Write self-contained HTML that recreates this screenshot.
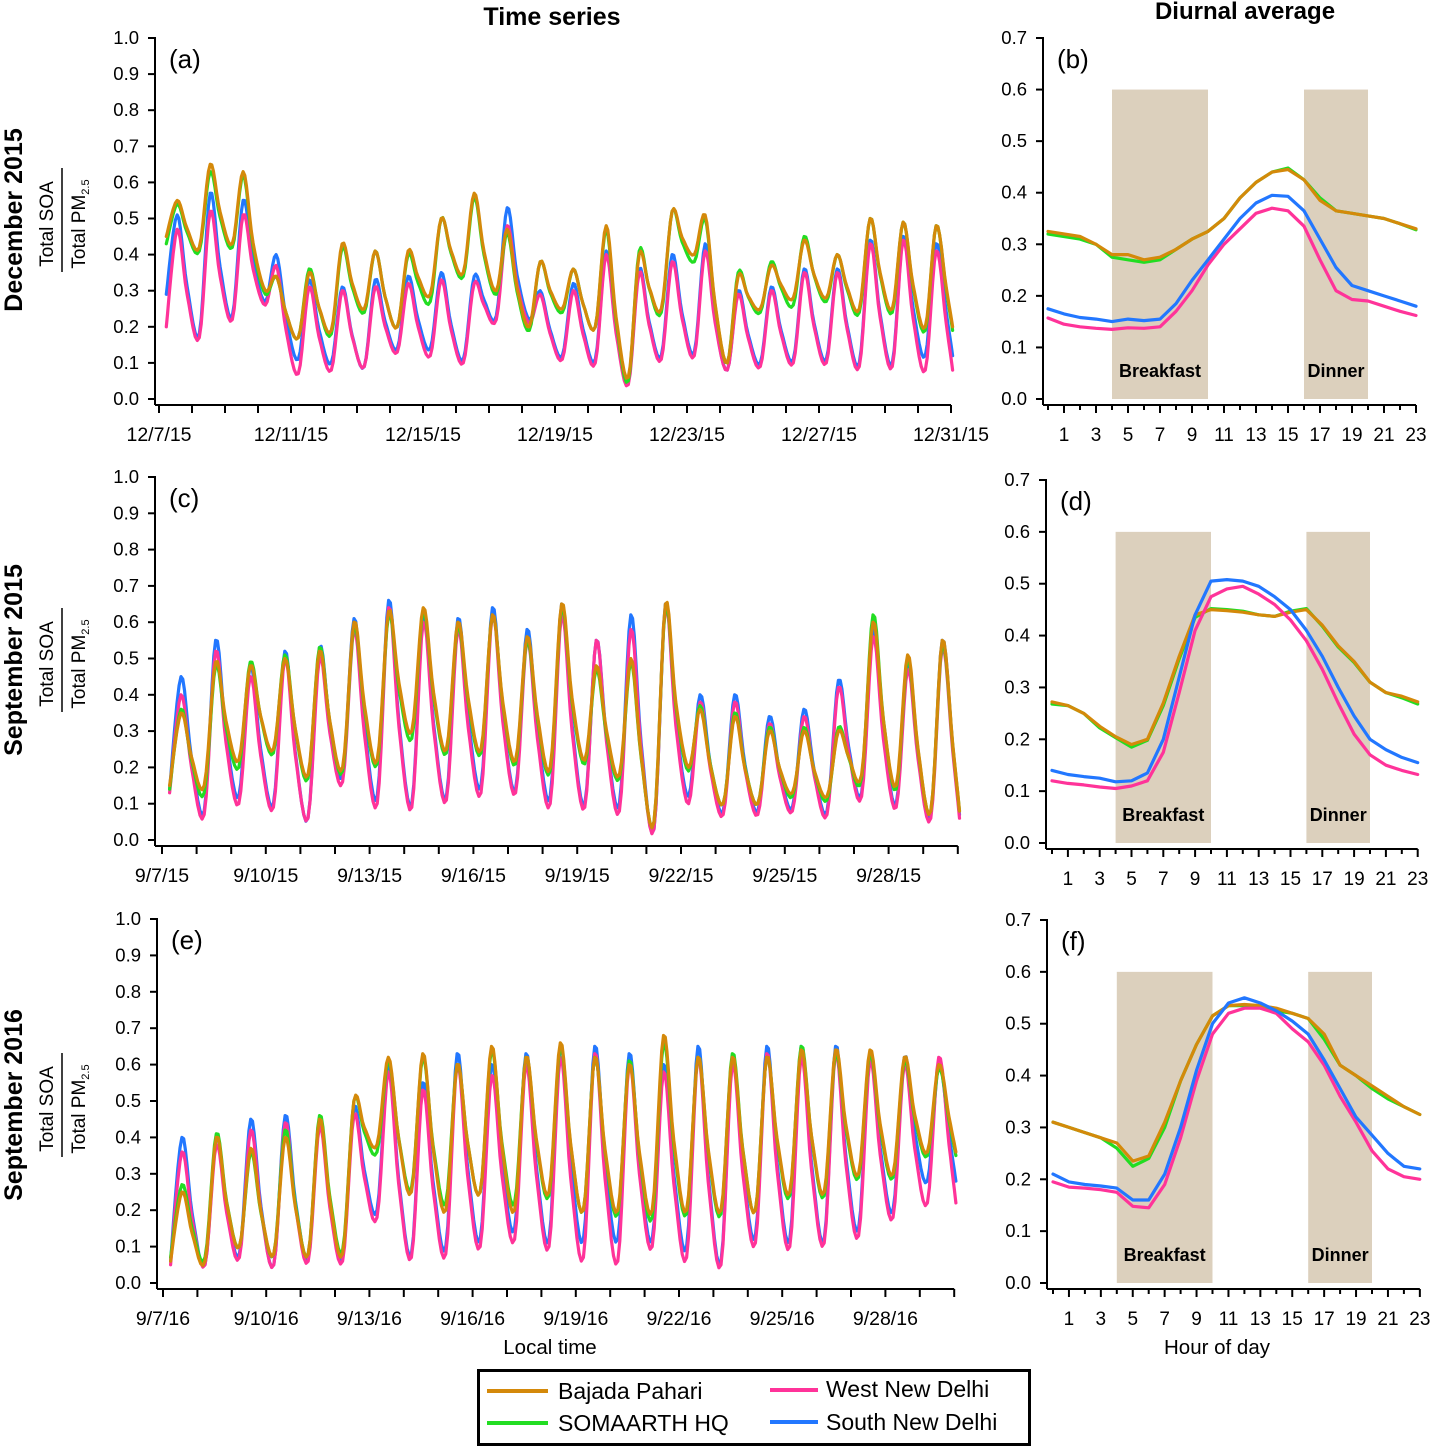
<!DOCTYPE html>
<html><head><meta charset="utf-8"><style>
body{margin:0;background:#fff;font-family:"Liberation Sans",sans-serif}
svg{display:block}
</style></head><body>
<svg id="fig" width="1432" height="1448" viewBox="0 0 1432 1448" xmlns="http://www.w3.org/2000/svg" font-family="Liberation Sans, sans-serif">
<text x="552" y="25" font-size="25" font-weight="bold" text-anchor="middle">Time series</text>
<text x="1245" y="19" font-size="24" font-weight="bold" text-anchor="middle">Diurnal average</text>
<text x="550" y="1354" font-size="20.5" text-anchor="middle">Local time</text>
<text x="1217" y="1354" font-size="20.5" text-anchor="middle">Hour of day</text>
<g>
<rect x="478.5" y="1370.5" width="551" height="74" fill="#fff" stroke="#000" stroke-width="3"/>
<line x1="487" y1="1391" x2="548" y2="1391" stroke="#d4890a" stroke-width="4"/>
<text x="558" y="1399" font-size="23">Bajada Pahari</text>
<line x1="487" y1="1423" x2="548" y2="1423" stroke="#22dd22" stroke-width="4"/>
<text x="558" y="1431" font-size="23">SOMAARTH HQ</text>
<line x1="770" y1="1390" x2="818" y2="1390" stroke="#ff3399" stroke-width="4"/>
<text x="826" y="1397" font-size="23">West New Delhi</text>
<line x1="770" y1="1422" x2="818" y2="1422" stroke="#2277ff" stroke-width="4"/>
<text x="826" y="1430" font-size="23">South New Delhi</text>
</g>
</svg>
<script>
// ---- Time series data (daily trough / peak per site) ----
const decBajadaPeak=[0.55,0.65,0.63,0.34,0.35,0.43,0.41,0.41,0.50,0.57,0.47,0.38,0.36,0.48,0.40,0.52,0.51,0.34,0.37,0.44,0.40,0.50,0.49,0.48];
const decBajadaTrough=[0.45,0.42,0.43,0.30,0.17,0.19,0.25,0.20,0.29,0.35,0.30,0.20,0.25,0.20,0.06,0.25,0.40,0.10,0.25,0.28,0.28,0.25,0.25,0.20];
const decSomaarthPeak=[0.54,0.63,0.62,0.34,0.36,0.42,0.41,0.40,0.50,0.56,0.46,0.38,0.36,0.47,0.41,0.52,0.50,0.35,0.38,0.45,0.40,0.50,0.49,0.48];
const decSomaarthTrough=[0.43,0.41,0.42,0.29,0.17,0.18,0.24,0.20,0.27,0.34,0.29,0.19,0.24,0.20,0.05,0.24,0.38,0.10,0.24,0.26,0.27,0.24,0.24,0.19];
const decWestPeak=[0.47,0.52,0.51,0.37,0.31,0.30,0.31,0.32,0.33,0.32,0.48,0.29,0.30,0.40,0.35,0.38,0.41,0.29,0.30,0.35,0.35,0.43,0.44,0.41];
const decWestTrough=[0.20,0.17,0.22,0.26,0.07,0.08,0.09,0.13,0.12,0.10,0.22,0.21,0.11,0.10,0.04,0.11,0.12,0.08,0.09,0.10,0.10,0.09,0.09,0.08];
const decSouthPeak=[0.51,0.57,0.55,0.40,0.33,0.31,0.33,0.34,0.35,0.34,0.53,0.30,0.32,0.41,0.36,0.40,0.43,0.30,0.31,0.36,0.36,0.44,0.45,0.43];
const decSouthTrough=[0.29,0.18,0.23,0.27,0.11,0.10,0.09,0.14,0.14,0.11,0.23,0.22,0.12,0.11,0.05,0.12,0.13,0.08,0.10,0.11,0.11,0.10,0.10,0.12];

const sep15BajadaPeak=[0.35,0.49,0.48,0.50,0.52,0.60,0.63,0.64,0.60,0.62,0.56,0.65,0.48,0.50,0.65,0.36,0.34,0.30,0.30,0.30,0.60,0.51,0.55];
const sep15BajadaTrough=[0.15,0.15,0.22,0.25,0.18,0.20,0.22,0.30,0.25,0.25,0.22,0.20,0.22,0.18,0.05,0.20,0.10,0.10,0.13,0.12,0.18,0.15,0.08];
const sep15SomaarthPeak=[0.36,0.48,0.49,0.51,0.53,0.59,0.62,0.63,0.59,0.62,0.55,0.64,0.47,0.49,0.64,0.37,0.35,0.31,0.31,0.31,0.62,0.50,0.54];
const sep15SomaarthTrough=[0.14,0.13,0.20,0.24,0.17,0.19,0.21,0.28,0.24,0.24,0.21,0.19,0.21,0.17,0.05,0.19,0.10,0.10,0.12,0.11,0.17,0.14,0.08];
const sep15WestPeak=[0.40,0.52,0.45,0.50,0.50,0.58,0.64,0.60,0.58,0.62,0.55,0.62,0.55,0.58,0.64,0.38,0.38,0.32,0.34,0.42,0.56,0.47,0.53];
const sep15WestTrough=[0.13,0.07,0.10,0.09,0.06,0.16,0.10,0.09,0.11,0.13,0.13,0.10,0.09,0.08,0.03,0.10,0.07,0.07,0.08,0.07,0.12,0.09,0.06];
const sep15SouthPeak=[0.45,0.55,0.48,0.52,0.53,0.61,0.66,0.62,0.61,0.64,0.58,0.65,0.55,0.62,0.65,0.40,0.40,0.34,0.36,0.44,0.58,0.49,0.55];
const sep15SouthTrough=[0.14,0.08,0.12,0.10,0.06,0.18,0.12,0.10,0.12,0.15,0.14,0.12,0.10,0.10,0.03,0.12,0.08,0.08,0.09,0.08,0.13,0.10,0.07];

const sep16BajadaPeak=[0.25,0.40,0.37,0.40,0.45,0.50,0.62,0.63,0.60,0.65,0.62,0.66,0.62,0.60,0.68,0.62,0.62,0.62,0.64,0.64,0.64,0.62,0.60];
const sep16BajadaTrough=[0.06,0.06,0.10,0.08,0.08,0.08,0.38,0.25,0.20,0.25,0.20,0.25,0.20,0.20,0.20,0.20,0.20,0.20,0.25,0.25,0.30,0.30,0.36];
const sep16SomaarthPeak=[0.27,0.41,0.36,0.42,0.46,0.50,0.61,0.62,0.60,0.64,0.62,0.65,0.62,0.61,0.66,0.62,0.63,0.62,0.65,0.63,0.63,0.61,0.59];
const sep16SomaarthTrough=[0.07,0.07,0.10,0.08,0.08,0.09,0.36,0.26,0.22,0.25,0.22,0.24,0.20,0.19,0.18,0.19,0.19,0.20,0.24,0.24,0.29,0.29,0.35];
const sep16WestPeak=[0.36,0.38,0.42,0.44,0.43,0.46,0.58,0.53,0.60,0.57,0.60,0.62,0.63,0.60,0.58,0.62,0.60,0.63,0.62,0.63,0.61,0.60,0.62];
const sep16WestTrough=[0.05,0.05,0.07,0.05,0.06,0.06,0.18,0.07,0.08,0.10,0.12,0.10,0.07,0.06,0.10,0.07,0.05,0.11,0.10,0.11,0.13,0.18,0.22];
const sep16SouthPeak=[0.40,0.40,0.45,0.46,0.45,0.48,0.60,0.55,0.63,0.60,0.63,0.65,0.65,0.63,0.60,0.65,0.62,0.65,0.65,0.65,0.63,0.62,0.60];
const sep16SouthTrough=[0.06,0.05,0.08,0.05,0.07,0.07,0.20,0.08,0.10,0.12,0.15,0.12,0.12,0.12,0.12,0.10,0.06,0.13,0.12,0.12,0.15,0.20,0.28];

// ---- Diurnal data (hour 0..23) ----
const decDiurnalBajada=[0.325,0.32,0.315,0.30,0.28,0.28,0.27,0.275,0.29,0.31,0.325,0.35,0.39,0.42,0.44,0.445,0.425,0.385,0.365,0.36,0.355,0.35,0.34,0.33];
const decDiurnalSomaarth=[0.32,0.315,0.31,0.30,0.275,0.27,0.265,0.27,0.29,0.31,0.325,0.35,0.39,0.42,0.44,0.448,0.425,0.39,0.365,0.36,0.355,0.35,0.34,0.328];
const decDiurnalWest=[0.157,0.145,0.14,0.137,0.135,0.138,0.137,0.14,0.17,0.21,0.26,0.30,0.33,0.36,0.37,0.365,0.335,0.27,0.21,0.193,0.19,0.18,0.17,0.162];
const decDiurnalSouth=[0.175,0.165,0.158,0.155,0.15,0.155,0.152,0.155,0.185,0.23,0.27,0.31,0.35,0.38,0.395,0.393,0.365,0.31,0.255,0.22,0.21,0.20,0.19,0.18];
const sep15DiurnalBajada=[0.272,0.265,0.25,0.225,0.205,0.19,0.20,0.27,0.36,0.44,0.45,0.448,0.445,0.44,0.437,0.445,0.45,0.42,0.38,0.35,0.31,0.29,0.283,0.272];
const sep15DiurnalSomaarth=[0.268,0.265,0.25,0.222,0.203,0.185,0.198,0.265,0.355,0.435,0.452,0.45,0.447,0.44,0.437,0.447,0.452,0.418,0.378,0.348,0.31,0.29,0.28,0.268];
const sep15DiurnalWest=[0.12,0.115,0.112,0.108,0.105,0.11,0.12,0.175,0.29,0.41,0.475,0.49,0.495,0.48,0.46,0.43,0.39,0.335,0.27,0.21,0.17,0.15,0.14,0.132];
const sep15DiurnalSouth=[0.14,0.132,0.128,0.125,0.118,0.12,0.135,0.20,0.32,0.44,0.505,0.508,0.505,0.495,0.475,0.45,0.41,0.36,0.30,0.245,0.20,0.18,0.165,0.155];
const sep16DiurnalBajada=[0.31,0.30,0.29,0.28,0.27,0.235,0.245,0.31,0.39,0.46,0.515,0.535,0.537,0.535,0.53,0.52,0.51,0.48,0.42,0.40,0.38,0.36,0.34,0.325];
const sep16DiurnalSomaarth=[0.31,0.30,0.29,0.28,0.26,0.225,0.24,0.30,0.39,0.46,0.515,0.535,0.535,0.535,0.525,0.52,0.51,0.47,0.42,0.40,0.375,0.355,0.34,0.325];
const sep16DiurnalWest=[0.195,0.185,0.183,0.18,0.175,0.148,0.145,0.19,0.28,0.39,0.48,0.52,0.53,0.53,0.52,0.49,0.465,0.42,0.36,0.31,0.255,0.22,0.205,0.20];
const sep16DiurnalSouth=[0.21,0.195,0.19,0.187,0.183,0.16,0.16,0.21,0.30,0.41,0.50,0.54,0.55,0.54,0.525,0.505,0.48,0.43,0.375,0.32,0.285,0.25,0.225,0.22];

const decDateLabels=['12/7/15','12/11/15','12/15/15','12/19/15','12/23/15','12/27/15','12/31/15'];
const sep15DateLabels=['9/7/15','9/10/15','9/13/15','9/16/15','9/19/15','9/22/15','9/25/15','9/28/15'];
const sep16DateLabels=['9/7/16','9/10/16','9/13/16','9/16/16','9/19/16','9/22/16','9/25/16','9/28/16'];
const hourLabels=['1','3','5','7','9','11','13','15','17','19','21','23'];
const tsTicks=[0,0.1,0.2,0.3,0.4,0.5,0.6,0.7,0.8,0.9,1.0];
const diTicks=[0,0.1,0.2,0.3,0.4,0.5,0.6,0.7];
const mealSpans=[[4,10,'Breakfast'],[16,20,'Dinner']];

const COLORS={bajada:'#d4890a',somaarth:'#22dd22',west:'#ff3399',south:'#2277ff'};
const NS='http://www.w3.org/2000/svg';
const svg=document.getElementById('fig');
function mk(tag,attrs,parent){const e=document.createElementNS(NS,tag);for(const k in attrs)e.setAttribute(k,attrs[k]);(parent||svg).appendChild(e);return e;}

function yAxis(g,ax,y0,y1,vmax,ticks,name){
  const sy=v=>y0-(v/vmax)*(y0-y1);
  const l=mk('line',{x1:ax,y1:sy(vmax)-1,x2:ax,y2:y0+6,stroke:'#000','stroke-width':2},g);
  
  
  ticks.forEach(v=>{
    mk('line',{x1:ax-7,y1:sy(v),x2:ax,y2:sy(v),stroke:'#000','stroke-width':2},g);
    const t=mk('text',{x:ax-16,y:sy(v)+6,'font-size':18.5,'text-anchor':'end'},g);
    t.textContent=v.toFixed(1);
    
    
  });
  return sy;
}
function polyline(g,pts,color,name){
  const p=mk('polyline',{points:pts.map(q=>q[0].toFixed(1)+','+q[1].toFixed(1)).join(' '),fill:'none',stroke:color,'stroke-width':3.2,'stroke-linejoin':'round','stroke-linecap':'round'},g);
  
  
}
function smooth(pts){
  const out=[];
  for(let i=0;i<pts.length-1;i++){
    const p0=pts[Math.max(0,i-1)],p1=pts[i],p2=pts[i+1],p3=pts[Math.min(pts.length-1,i+2)];
    for(let s=0;s<6;s++){const t=s/6,t2=t*t,t3=t2*t;
      const f=(a,b,c,d)=>0.5*((2*b)+(-a+c)*t+(2*a-5*b+4*c-d)*t2+(-a+3*b-3*c+d)*t3);
      out.push([f(p0[0],p1[0],p2[0],p3[0]),f(p0[1],p1[1],p2[1],p3[1])]);}
  }
  out.push(pts[pts.length-1]);return out;
}

function tsPanel(cfg){
  const g=mk('g',{});
  
  
  const sy=yAxis(g,cfg.ax,cfg.y0,cfg.y1,1,tsTicks,cfg.name);
  const sx=d=>cfg.dx0+d*cfg.pd;
  const base=cfg.y0+6;
  const bl=mk('line',{x1:cfg.ax,y1:base,x2:sx(cfg.nTicks),y2:base,stroke:'#000','stroke-width':2},g);
  
  
  for(let d=0;d<=cfg.nTicks;d++)mk('line',{x1:sx(d),y1:base,x2:sx(d),y2:base+8,stroke:'#000','stroke-width':2},g);
  cfg.labels.forEach((s,i)=>{const t=mk('text',{x:sx(i*cfg.step),y:base+36,'font-size':19.5,'text-anchor':'middle'},g);t.textContent=s;
    
    });
  const pl=mk('text',{x:cfg.ax+14,y:cfg.y1+30,'font-size':26},g);pl.textContent=cfg.letter;
  
  
  cfg.series.forEach(([key,peak,trough])=>{
    const pts=[];
    for(let d=0;d<peak.length;d++){
      pts.push([sx(d+0.22),sy(trough[d])]);
      pts.push([sx(d+0.55),sy(peak[d])]);
      const nt=d+1<trough.length?trough[d+1]:trough[d];
      pts.push([sx(d+0.85),sy(nt+(peak[d]-nt)*0.4)]);
    }
    pts.push([sx(peak.length+0.05),sy(trough[trough.length-1])]);
    polyline(g,smooth(pts),COLORS[key],cfg.name+'-line-'+key);
  });
}
function diPanel(cfg){
  const g=mk('g',{});
  
  
  const sy=v=>cfg.y0-(v/0.7)*(cfg.y0-cfg.y1);
  const sx=h=>cfg.hx0+h*cfg.ph;
  mealSpans.forEach(([a,b,lab])=>{
    const r=mk('rect',{x:sx(a),y:sy(0.6),width:sx(b)-sx(a),height:sy(0)-sy(0.6),fill:'#dcd0bd'},g);
    
    
    const t=mk('text',{x:(sx(a)+sx(b))/2,y:sy(0)-22,'font-size':18,'font-weight':'bold','text-anchor':'middle'},g);t.textContent=lab;
    
    
  });
  yAxis(g,cfg.ax,cfg.y0,cfg.y1,0.7,diTicks,cfg.name);
  const base=cfg.y0+6;
  const bl=mk('line',{x1:cfg.ax,y1:base,x2:sx(23),y2:base,stroke:'#000','stroke-width':2},g);
  
  
  for(let h=0;h<=23;h++)mk('line',{x1:sx(h),y1:base,x2:sx(h),y2:base+(h%2?8:5),stroke:'#000','stroke-width':2},g);
  hourLabels.forEach(s=>{const t=mk('text',{x:sx(+s),y:base+36,'font-size':19,'text-anchor':'middle'},g);t.textContent=s;
    
    });
  const pl=mk('text',{x:cfg.ax+14,y:cfg.y1+30,'font-size':26},g);pl.textContent=cfg.letter;
  
  
  cfg.series.forEach(([key,vals])=>{
    polyline(g,vals.map((v,h)=>[sx(h),sy(v)]),COLORS[key],cfg.name+'-line-'+key);
  });
}
function rowLabel(cy,title,name){
  const g=mk('g',{});
  
  
  const t=mk('text',{x:0,y:0,'font-size':25,'font-weight':'bold','text-anchor':'middle',transform:`translate(22,${cy}) rotate(-90)`},g);t.textContent=title;
  const a=mk('text',{x:0,y:0,'font-size':19,'text-anchor':'middle',transform:`translate(53,${cy+4}) rotate(-90)`},g);a.textContent='Total SOA';
  mk('line',{x1:62,y1:cy-52,x2:62,y2:cy+52,stroke:'#000','stroke-width':1.5},g);
  const b=mk('text',{x:0,y:0,'font-size':19,'text-anchor':'middle',transform:`translate(85,${cy+4}) rotate(-90)`},g);
  b.innerHTML='Total PM<tspan font-size="11" dy="4">2.5</tspan>';
}

tsPanel({name:'panel-a',letter:'(a)',ax:155,y0:399,y1:38,dx0:159,pd:33,nTicks:24,step:4,labels:decDateLabels,
  series:[['south',decSouthPeak,decSouthTrough],['west',decWestPeak,decWestTrough],['somaarth',decSomaarthPeak,decSomaarthTrough],['bajada',decBajadaPeak,decBajadaTrough]]});
tsPanel({name:'panel-c',letter:'(c)',ax:155,y0:840,y1:477,dx0:162,pd:34.6,nTicks:23,step:3,labels:sep15DateLabels,
  series:[['south',sep15SouthPeak,sep15SouthTrough],['west',sep15WestPeak,sep15WestTrough],['somaarth',sep15SomaarthPeak,sep15SomaarthTrough],['bajada',sep15BajadaPeak,sep15BajadaTrough]]});
tsPanel({name:'panel-e',letter:'(e)',ax:157,y0:1283,y1:919,dx0:163,pd:34.4,nTicks:23,step:3,labels:sep16DateLabels,
  series:[['south',sep16SouthPeak,sep16SouthTrough],['west',sep16WestPeak,sep16WestTrough],['somaarth',sep16SomaarthPeak,sep16SomaarthTrough],['bajada',sep16BajadaPeak,sep16BajadaTrough]]});
diPanel({name:'panel-b',letter:'(b)',ax:1043,y0:399,y1:38,hx0:1048,ph:16,
  series:[['somaarth',decDiurnalSomaarth],['bajada',decDiurnalBajada],['west',decDiurnalWest],['south',decDiurnalSouth]]});
diPanel({name:'panel-d',letter:'(d)',ax:1046,y0:843,y1:480,hx0:1052,ph:15.9,
  series:[['somaarth',sep15DiurnalSomaarth],['bajada',sep15DiurnalBajada],['west',sep15DiurnalWest],['south',sep15DiurnalSouth]]});
diPanel({name:'panel-f',letter:'(f)',ax:1047,y0:1283,y1:920,hx0:1053,ph:15.95,
  series:[['somaarth',sep16DiurnalSomaarth],['bajada',sep16DiurnalBajada],['west',sep16DiurnalWest],['south',sep16DiurnalSouth]]});
rowLabel(220,'December 2015','row-label-december-2015');
rowLabel(660,'September 2015','row-label-september-2015');
rowLabel(1105,'September 2016','row-label-september-2016');
</script>
</body></html>
